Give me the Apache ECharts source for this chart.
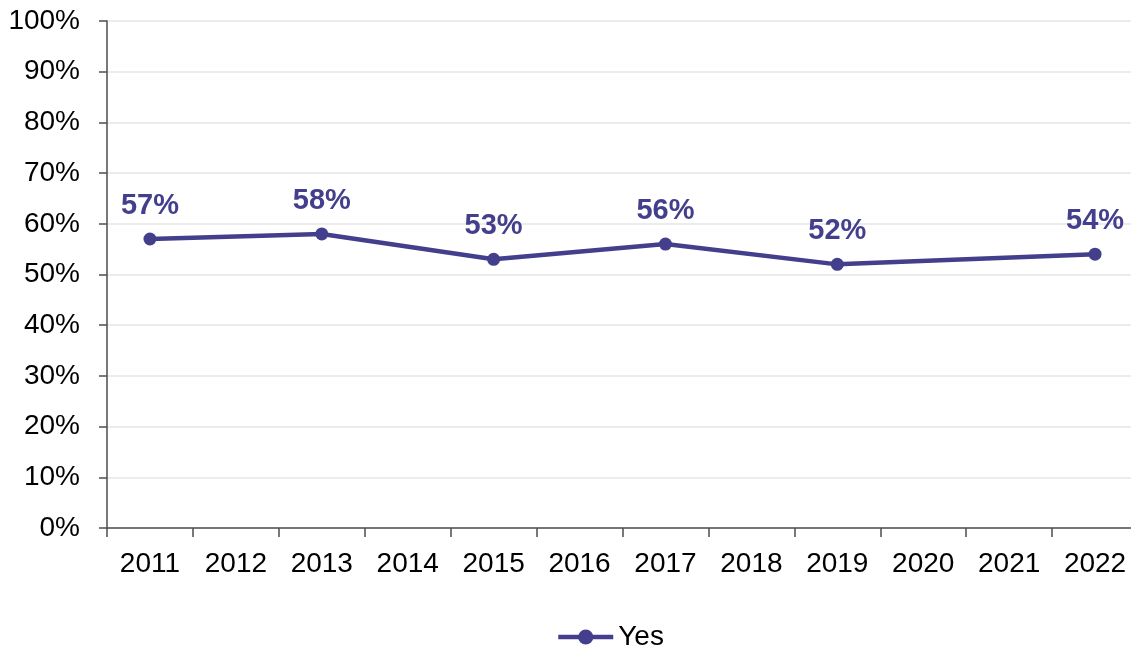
<!DOCTYPE html>
<html>
<head>
<meta charset="utf-8">
<script src="https://cdn.jsdelivr.net/npm/echarts@6/dist/echarts.min.js"></script>
<style>html,body{margin:0;padding:0;background:#fff}#c{width:1131px;height:650px}</style>
</head>
<body>
<div id="c"></div>
<script>
const categories = ['2011','2012','2013','2014','2015','2016','2017','2018','2019','2020','2021','2022'];
const yesValues = [57, null, 58, null, 53, null, 56, null, 52, null, null, 54];
const yTicks = [0, 10, 20, 30, 40, 50, 60, 70, 80, 90, 100];

const chart = echarts.init(document.getElementById('c'), null, {renderer: 'canvas'});
const FONT = '"Liberation Sans", Arial, sans-serif';
const COLOR = '#433F8C';
chart.setOption({
  animation: false,
  grid: {left: 107, right: -7, top: 21, bottom: 122, containLabel: false, outerBoundsMode: 'none'},
  legend: {
    data: ['Yes'], top: 618, left: 551,
    itemWidth: 55, itemHeight: 19, itemGap: 4,
    lineStyle: {width: 4.5},
    textStyle: {fontFamily: FONT, fontSize: 28, color: '#000'}
  },
  xAxis: {
    type: 'category', data: categories, boundaryGap: true,
    axisLine: {lineStyle: {color: '#4D4D4D', width: 1.5}},
    axisTick: {show: true, length: 9, alignWithLabel: false, lineStyle: {color: '#4D4D4D', width: 1.5}},
    axisLabel: {fontFamily: FONT, fontSize: 28, color: '#000', margin: 22}
  },
  yAxis: {
    type: 'value', min: 0, max: 100, interval: 10,
    axisLine: {show: true, lineStyle: {color: '#4D4D4D', width: 1.5}},
    axisTick: {show: true, length: 8, lineStyle: {color: '#4D4D4D', width: 1.5}},
    axisLabel: {fontFamily: FONT, fontSize: 28, color: '#000', margin: 27,
      formatter: v => yTicks.includes(v) ? v + '%' : ''},
    splitLine: {lineStyle: {color: '#E6E6E6', width: 1.5}}
  },
  series: [{
    name: 'Yes', type: 'line', data: yesValues, connectNulls: true,
    symbol: 'circle', symbolSize: 13,
    lineStyle: {color: COLOR, width: 4.5},
    itemStyle: {color: COLOR},
    label: {show: true, position: 'top', distance: 12, formatter: p => p.value + '%',
      fontFamily: FONT, fontSize: 29, fontWeight: 'bold', color: COLOR}
  }]
});
</script>
</body>
</html>
